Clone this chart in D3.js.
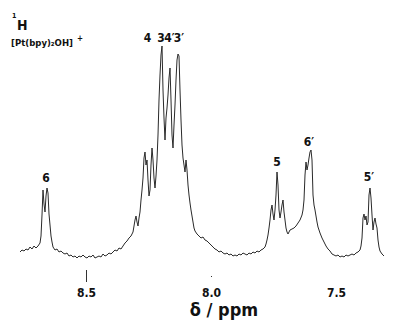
<!DOCTYPE html>
<html>
<head>
<meta charset="utf-8">
<script src="https://cdn.jsdelivr.net/npm/d3@7"></script>
<style>
  body { margin: 0; background: #fff; }
  svg { display: block; }
  text { font-family: "DejaVu Sans Condensed", "DejaVu Sans", sans-serif; font-stretch: condensed; font-weight: bold; fill: #111; }
</style>
</head>
<body>
<div id="chart"></div>
<script>
// chemical shift (ppm), left to right
const shift = [
  8.764,8.756,8.748,8.740,8.732,8.724,8.716,8.708,8.700,8.692,8.684,
  8.680,8.676,8.672,8.668,8.664,8.660,8.656,8.652,8.648,8.644,8.640,8.636,8.632,
  8.624,8.616,8.608,8.600,8.592,8.584,8.576,8.568,8.560,8.552,8.544,8.536,8.528,8.520,8.512,8.504,8.496,8.488,8.480,8.472,
  8.464,8.456,8.448,8.440,8.432,8.424,8.416,8.408,8.400,8.392,8.384,8.376,8.368,8.360,8.352,8.344,8.336,8.328,8.320,
  8.312,8.308,8.304,8.300,8.296,8.292,8.288,8.284,8.280,8.276,8.272,8.268,8.264,8.260,8.256,8.252,8.248,8.244,8.240,8.236,
  8.232,8.228,8.224,8.220,8.216,8.212,8.208,8.204,8.200,8.196,8.192,8.188,8.184,8.180,8.176,8.172,8.168,8.164,8.160,8.156,
  8.152,8.148,8.144,8.140,8.136,8.132,8.128,8.124,8.120,8.116,8.112,8.108,8.104,8.100,8.096,8.092,8.088,8.084,8.080,8.076,
  8.072,8.068,8.064,
  8.056,8.048,8.040,8.032,8.024,8.016,8.008,8.000,7.992,7.984,7.976,7.968,7.960,7.952,7.944,7.936,7.928,7.920,7.912,7.904,
  7.896,7.888,7.880,7.872,7.864,7.856,7.848,7.840,7.832,7.824,7.816,7.808,7.800,7.792,
  7.784,7.780,7.776,7.772,7.768,7.764,7.760,7.756,7.752,7.748,7.744,7.740,7.736,7.732,7.728,7.724,7.720,7.716,7.712,7.708,
  7.704,7.700,7.696,7.692,7.688,7.684,
  7.676,7.668,7.660,7.652,7.644,7.636,
  7.632,7.628,7.624,7.620,7.616,7.612,7.608,7.604,7.600,7.596,7.592,7.588,7.584,7.580,7.576,7.572,
  7.564,7.556,7.548,7.540,7.532,7.524,7.516,7.508,7.500,7.492,7.484,7.476,7.468,7.460,7.452,7.444,7.436,7.428,7.420,7.412,7.404,
  7.400,7.396,7.392,7.388,7.384,7.380,7.376,7.372,7.368,7.364,7.360,7.356,7.352,7.348,7.344,7.340,7.336,7.332,7.328,7.324,
  7.316,7.308
];
// signal intensity (arbitrary units)
const intensity = [
  8,10,9,11,10,13,11,14,12,14,17,
  24,45,70,56,48,64,72,67,46,35,24,18,13,
  10,11,8,9,7,6,7,4,5,3,4,2,4,3,5,3,2,4,3,5,
  2,3,4,3,6,4,5,7,6,8,10,9,12,11,14,17,19,22,24,
  28,34,40,44,38,34,42,48,60,70,82,102,108,95,100,80,64,70,95,112,
  100,82,72,84,100,125,160,185,205,214,170,142,120,142,152,165,182,192,160,125,
  112,135,155,180,200,206,204,170,140,115,102,95,88,100,90,75,65,57,50,44,
  38,32,29,
  26,24,22,23,20,19,17,15,13,11,10,8,9,7,6,7,5,6,4,5,
  4,6,5,7,6,5,7,6,8,7,9,8,10,11,
  13,16,20,25,32,40,50,55,46,40,50,65,88,75,50,42,48,55,60,48,
  40,32,28,26,28,30,
  31,32,34,37,40,45,
  50,60,85,98,90,95,102,108,110,100,65,55,50,44,38,33,
  27,22,18,14,11,9,6,5,4,5,3,4,3,5,4,5,6,5,7,8,10,
  14,22,42,46,40,44,35,38,65,72,62,45,30,38,42,36,32,20,13,9,
  6,4
];

// peak assignments
const peakNames = ["6", "4", "3", "4′", "3′", "5", "6′", "5′"];
const peakShift = [8.660, 8.254, 8.200, 8.166, 8.128, 7.736, 7.608, 7.368];
const peakLabelLevel = [78, 218, 218, 218, 218, 94, 114, 79];

const tickValues = [8.5, 8.0, 7.5];
const tickLength = [12, 1, 0];

const width = 399, height = 321;

const svg = d3.select("#chart").append("svg")
  .attr("width", width)
  .attr("height", height);

const x = d3.scaleLinear().domain([8.844, 7.248]).range([0, width]);
const y = d3.scaleLinear().domain([0, 220]).range([260, 40]);

// spectrum trace
const line = d3.line()
  .x(function (d, i) { return x(shift[i]); })
  .y(function (d) { return y(d); });

svg.append("path")
  .datum(intensity)
  .attr("d", line)
  .attr("fill", "none")
  .attr("stroke", "#2a2a2a")
  .attr("stroke-width", 1)
  .attr("stroke-linejoin", "round");

// peak labels
svg.append("g")
  .selectAll("text")
  .data(peakNames)
  .enter()
  .append("text")
  .attr("x", function (d, i) { return x(peakShift[i]); })
  .attr("y", function (d, i) { return y(peakLabelLevel[i]); })
  .attr("text-anchor", "middle")
  .style("font-size", "12px")
  .text(function (d) { return d; });

// x axis: only tick marks and labels
const axis = svg.append("g")
  .attr("transform", "translate(0,270)")
  .call(d3.axisBottom(x).tickValues(tickValues).tickSize(0).tickPadding(0).tickFormat(d3.format(".1f")));
axis.select(".domain").remove();
axis.selectAll(".tick line")
  .attr("y1", function (d) { return tickValues.indexOf(d) === 1 ? 6 : 0; })
  .attr("y2", function (d) { const i = tickValues.indexOf(d); return (i === 1 ? 6 : 0) + tickLength[i]; })
  .attr("stroke", "#333");
axis.selectAll(".tick text")
  .attr("y", 27)
  .attr("dy", 0)
  .style("font-size", "12px")
  .style("font-family", "\"DejaVu Sans Condensed\", \"DejaVu Sans\", sans-serif")
  .style("font-weight", "bold")
  .attr("fill", "#111");

svg.append("text")
  .attr("x", 224)
  .attr("y", 316)
  .attr("text-anchor", "middle")
  .style("font-size", "18px")
  .text("δ / ppm");

// nucleus and compound
svg.append("text")
  .attr("x", 12)
  .attr("y", 18)
  .style("font-size", "7px")
  .text("1");
svg.append("text")
  .attr("x", 17)
  .attr("y", 30)
  .style("font-size", "14px")
  .text("H");
svg.append("text")
  .attr("x", 11)
  .attr("y", 46)
  .style("font-size", "9.5px")
  .text("[Pt(bpy)₂OH]");
svg.append("text")
  .attr("x", 77)
  .attr("y", 41)
  .style("font-size", "8px")
  .text("+");
</script>
</body>
</html>
